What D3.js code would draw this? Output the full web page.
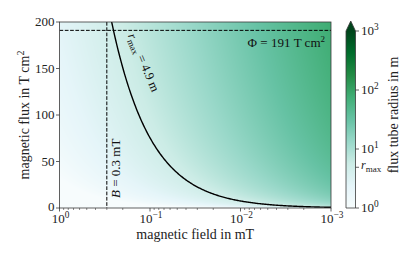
<!DOCTYPE html>
<html><head><meta charset="utf-8">
<script src="https://cdn.jsdelivr.net/npm/d3@7"></script>
<style>body{margin:0;background:#fff}svg{font-family:"Liberation Serif","Times New Roman",serif;display:block}</style>
</head><body><svg id="c" width="415" height="260"></svg>
<script>
// ---- data ----
const xTicks = [1, 0.1, 0.01, 0.001];
const xTickExp = ["0", "−1", "−2", "−3"];
const yTicks = [0, 50, 100, 150, 200];
const cbTicks = [1, 10, 100, 1000];
const cbTickExp = ["0", "1", "2", "3"];
const rMax = [4.9];          // m
const bLine = [0.3];         // mT
const phiLine = [191];       // T cm^2
const xDomain = [1, 0.001];  // mT
const yDomain = [0, 200];    // T cm^2
const cDomain = [1, 1000];   // m

// ---- style: matplotlib BuGn (piecewise linear) ----
const buGn = ["#f7fcfd","#e5f5f9","#ccece6","#99d8c9","#66c2a4","#41ae76","#238b45","#006d2c","#00441b"];
const buGnScale = d3.scaleLinear().domain(d3.range(buGn.length).map(i => i / (buGn.length - 1)))
  .range(buGn).interpolate(d3.interpolateRgb).clamp(true);

// ---- layout ----
const L = 59.5, R = 331, T = 22, B = 208;
const svg = d3.select("#c");
const x = d3.scaleLog().domain(xDomain).range([L, R]);
const y = d3.scaleLinear().domain(yDomain).range([B, T]);
const col = d3.scaleSequentialLog(buGnScale).domain(cDomain).clamp(true);
// flux Phi[T cm^2] = pi r^2[m^2]*1e4 * B[mT]*1e-3
const radius = (b, phi) => Math.sqrt(Math.max(phi, 1e-9) / (Math.PI * b * 10));
const fluxOf = (r, b) => Math.PI * r * r * b * 10;

// ---- heatmap ----
const cw = Math.round(R - L), ch = Math.round(B - T);
const cv = document.createElement("canvas");
cv.width = cw; cv.height = ch;
const ctx = cv.getContext("2d");
const img = ctx.createImageData(cw, ch);
for (let j = 0; j < ch; j++) {
  const phi = y.invert(T + j + 0.5);
  for (let i = 0; i < cw; i++) {
    const b = x.invert(L + i + 0.5);
    const cc = d3.rgb(col(Math.max(1, radius(b, phi))));
    const k = (j * cw + i) * 4;
    img.data[k] = cc.r; img.data[k + 1] = cc.g; img.data[k + 2] = cc.b; img.data[k + 3] = 255;
  }
}
ctx.putImageData(img, 0, 0);
svg.append("image").attr("x", L).attr("y", T).attr("width", R - L).attr("height", B - T)
  .attr("preserveAspectRatio", "none").attr("href", cv.toDataURL());

svg.append("clipPath").attr("id", "clip").append("rect")
  .attr("x", L).attr("y", T).attr("width", R - L).attr("height", B - T);
const g = svg.append("g").attr("clip-path", "url(#clip)");

// r_max curve
const bs = d3.range(0, 301).map(i => Math.pow(10, -3 + 3 * i / 300));
g.append("path")
  .attr("d", d3.line().x(b => x(b)).y(b => y(fluxOf(rMax[0], b)))(bs))
  .attr("fill", "none").attr("stroke", "#000").attr("stroke-width", 1.4);

// dashed lines
g.append("line").attr("x1", x(bLine[0])).attr("x2", x(bLine[0])).attr("y1", T).attr("y2", B)
  .attr("stroke", "#000").attr("stroke-width", 1).attr("stroke-dasharray", "3.7,1.6");
g.append("line").attr("x1", L).attr("x2", R).attr("y1", y(phiLine[0])).attr("y2", y(phiLine[0]))
  .attr("stroke", "#000").attr("stroke-width", 1).attr("stroke-dasharray", "3.7,1.6");

// frame
svg.append("rect").attr("x", L).attr("y", T).attr("width", R - L).attr("height", B - T)
  .attr("fill", "none").attr("stroke", "#3a3a3a").attr("stroke-width", 0.8);

const FS = 13;
// x axis ticks
const xMinor = [];
for (let e = -3; e < 0; e++) for (let m = 2; m <= 9; m++) xMinor.push(m * Math.pow(10, e));
svg.selectAll(".xm").data(xMinor).enter().append("line")
  .attr("x1", d => x(d)).attr("x2", d => x(d)).attr("y1", B).attr("y2", B + 2)
  .attr("stroke", "#3a3a3a").attr("stroke-width", 0.6);
svg.selectAll(".xM").data(xTicks).enter().append("line")
  .attr("x1", d => x(d)).attr("x2", d => x(d)).attr("y1", B).attr("y2", B + 3.5)
  .attr("stroke", "#3a3a3a").attr("stroke-width", 0.8);
xTicks.forEach((d, i) => {
  const t = svg.append("text").attr("x", x(d) + 1).attr("y", B + 15).attr("text-anchor", "middle")
    .attr("font-size", FS).attr("fill", "#222");
  t.append("tspan").text("10");
  t.append("tspan").attr("dy", -5).attr("font-size", FS * 0.72).text(xTickExp[i]);
});
// y axis ticks
svg.selectAll(".yM").data(yTicks).enter().append("line")
  .attr("x1", L - 3.5).attr("x2", L).attr("y1", d => y(d)).attr("y2", d => y(d))
  .attr("stroke", "#3a3a3a").attr("stroke-width", 0.8);
svg.selectAll(".yl").data(yTicks).enter().append("text")
  .attr("x", L - 5).attr("y", d => y(d) + 4.3 - (d === 0 ? 1.5 : 0)).attr("text-anchor", "end")
  .attr("font-size", FS).attr("fill", "#222").text(d => d);

// axis labels
svg.append("text").attr("x", (L + R) / 2).attr("y", 239).attr("text-anchor", "middle")
  .attr("font-size", 14).attr("fill", "#222").text("magnetic field in mT");
const yl = svg.append("text").attr("transform", `translate(29,${(T + B) / 2}) rotate(-90)`)
  .attr("text-anchor", "middle").attr("font-size", 14).attr("fill", "#222");
yl.append("tspan").text("magnetic flux in T cm");
yl.append("tspan").attr("dy", -5).attr("font-size", 10).text("2");

// annotations
const pl = svg.append("text").attr("x", 325).attr("y", 47).attr("text-anchor", "end")
  .attr("font-size", 13).attr("fill", "#111");
pl.append("tspan").text("Φ = 191 T cm");
pl.append("tspan").attr("dy", -5).attr("font-size", 9).text("2");

const bl = svg.append("text").attr("transform", `translate(${x(bLine[0]) + 13.5},198) rotate(-90)`)
  .attr("font-size", 13).attr("fill", "#111");
bl.append("tspan").attr("font-style", "italic").text("B");
bl.append("tspan").text(" = 0.3 mT");

const rl = svg.append("text").attr("transform", `translate(140,64) rotate(67)`)
  .attr("text-anchor", "middle").attr("font-size", 12.5).attr("fill", "#111");
rl.append("tspan").attr("font-style", "italic").text("r");
rl.append("tspan").attr("dy", 3).attr("font-size", 9).text("max");
rl.append("tspan").attr("dy", -3).text(" = 4.9 m");

// ---- colorbar ----
const cx0 = 346, cx1 = 355.5, cTop = 31, cBot = 208, tip = 21;
const cy = d3.scaleLog().domain(cDomain).range([cBot, cTop]);
const grad = svg.append("defs").append("linearGradient").attr("id", "cg")
  .attr("x1", 0).attr("x2", 0).attr("y1", 1).attr("y2", 0);
d3.range(0, 41).forEach(i => {
  const v = Math.pow(10, 3 * i / 40);
  grad.append("stop").attr("offset", i / 40).attr("stop-color", col(v));
});
svg.append("rect").attr("x", cx0).attr("y", cTop).attr("width", cx1 - cx0).attr("height", cBot - cTop)
  .attr("fill", "url(#cg)");
svg.append("path").attr("d", `M${cx0},${cTop}L${(cx0 + cx1) / 2},${tip}L${cx1},${cTop}Z`)
  .attr("fill", col(cDomain[1]));
svg.append("path")
  .attr("d", `M${cx0},${cBot}L${cx0},${cTop}L${(cx0 + cx1) / 2},${tip}L${cx1},${cTop}L${cx1},${cBot}Z`)
  .attr("fill", "none").attr("stroke", "#3a3a3a").attr("stroke-width", 0.8);
svg.selectAll(".cM").data(cbTicks.concat(rMax)).enter().append("line")
  .attr("x1", cx1).attr("x2", cx1 + 3.5).attr("y1", d => cy(d)).attr("y2", d => cy(d))
  .attr("stroke", "#3a3a3a").attr("stroke-width", 0.8);
cbTicks.forEach((d, i) => {
  const t = svg.append("text").attr("x", cx1 + 5.5).attr("y", cy(d) + 4.3)
    .attr("font-size", FS).attr("fill", "#222");
  t.append("tspan").text("10");
  t.append("tspan").attr("dy", -5).attr("font-size", FS * 0.72).text(cbTickExp[i]);
});
const rt = svg.append("text").attr("x", cx1 + 5.5).attr("y", cy(rMax[0]) + 2)
  .attr("font-size", 12).attr("fill", "#222");
rt.append("tspan").attr("font-style", "italic").text("r");
rt.append("tspan").attr("dy", 3).attr("font-size", 9).text("max");

svg.append("text").attr("transform", `translate(398,${(T + B) / 2}) rotate(-90)`)
  .attr("text-anchor", "middle").attr("font-size", 14).attr("fill", "#222")
  .text("flux tube radius in m");
</script></body></html>
